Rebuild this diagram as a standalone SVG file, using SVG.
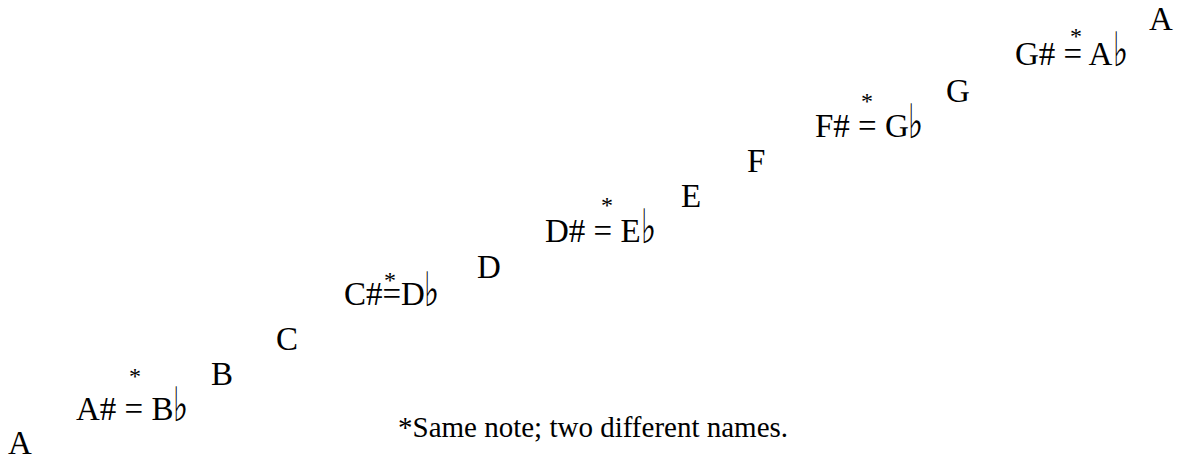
<svg xmlns="http://www.w3.org/2000/svg" width="1183" height="459" viewBox="0 0 1183 459">
<style>
.n{font-family:"Liberation Serif","Times New Roman",serif;font-size:33px;fill:#000}
.f{font-family:"DejaVu Sans","DejaVu Serif",sans-serif;font-size:34px;font-weight:bold;fill:#000}
.s{font-family:"Liberation Serif","Times New Roman",serif;font-size:24px;fill:#000;text-anchor:middle}
.foot{font-family:"Liberation Serif","Times New Roman",serif;font-size:29px;fill:#000}
</style>
<rect width="1183" height="459" fill="#fff"/>
<g id="connectors"/>
<g id="A-low"><text class="n" x="8" y="454">A</text></g>
<g id="Asharp-Bflat"><text class="n" x="76" y="420">A# = B</text><text class="f" transform="translate(173,421) scale(0.95,1.4)">♭</text><text class="s" x="135" y="384">*</text></g>
<g id="B"><text class="n" x="211" y="385">B</text></g>
<g id="C"><text class="n" x="276" y="350">C</text></g>
<g id="Csharp-Dflat"><text class="n" x="344" y="305">C#=D</text><text class="f" transform="translate(424,306) scale(0.95,1.4)">♭</text><text class="s" x="390" y="288">*</text></g>
<g id="D"><text class="n" x="477" y="278">D</text></g>
<g id="Dsharp-Eflat"><text class="n" x="545" y="242">D# = E</text><text class="f" transform="translate(641,243) scale(0.95,1.4)">♭</text><text class="s" x="607" y="213">*</text></g>
<g id="E"><text class="n" x="681" y="207">E</text></g>
<g id="F"><text class="n" x="747" y="172">F</text></g>
<g id="Fsharp-Gflat"><text class="n" x="815" y="137">F# = G</text><text class="f" transform="translate(908,138) scale(0.95,1.4)">♭</text><text class="s" x="867" y="109">*</text></g>
<g id="G"><text class="n" x="946" y="102">G</text></g>
<g id="Gsharp-Aflat"><text class="n" x="1015" y="65">G# = A</text><text class="f" transform="translate(1113,66) scale(0.95,1.4)">♭</text><text class="s" x="1076" y="44">*</text></g>
<g id="A-high"><text class="n" x="1149" y="30">A</text></g>
<g id="footnote"><text class="foot" x="398" y="437">*Same note; two different names.</text></g>
</svg>
